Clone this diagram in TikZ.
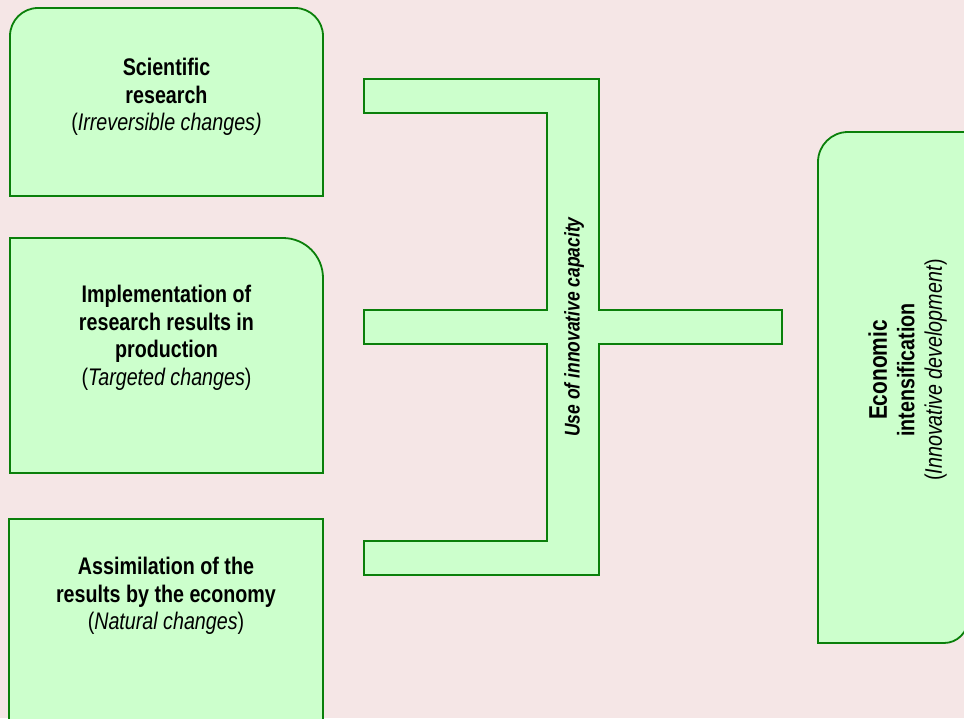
\documentclass[tikz,border=0pt]{standalone}
\usepackage{fontspec}
\setmainfont[FakeStretch=0.82]{Liberation Sans}
\usepackage{xcolor}
\usetikzlibrary{positioning}
\definecolor{bgpink}{HTML}{F5E6E6}
\definecolor{boxgreen}{HTML}{CCFFCC}
\definecolor{edgegreen}{HTML}{0A7F0A}

\begin{document}
\begin{tikzpicture}[x=1pt, y=-1pt,
  every node/.style={font=\fontsize{24}{27.5}\selectfont, align=center, text=black, inner sep=0pt},
  blockfill/.style={fill=boxgreen, draw=edgegreen, line width=1.8pt, line join=miter}]
% --- Background ---
\fill[bgpink] (0,0) rectangle (964,718);
\useasboundingbox (0,0) rectangle (964,718);

% --- Left blocks ---
\draw[blockfill] (10,196) [rounded corners=28pt] -- (10,8) -- (323,8) [sharp corners] -- (323,196) -- cycle;
\draw[blockfill] (10,473) -- (10,238) [rounded corners=40pt] -- (323,238) [sharp corners] -- (323,473) -- cycle;
\draw[blockfill] (9,519) rectangle (323,722);

% --- Right block ---
\draw[blockfill] (818,643) [rounded corners=30pt] -- (818,132) [sharp corners] -- (968,132) [rounded corners=24pt] -- (968,643) [sharp corners] -- cycle;

% --- Bracket ---
\draw[blockfill] (364,79) -- (599,79) -- (599,310) -- (782,310) -- (782,344)
  -- (599,344) -- (599,575) -- (364,575) -- (364,541) -- (547,541)
  -- (547,344) -- (364,344) -- (364,310) -- (547,310) -- (547,113)
  -- (364,113) -- cycle;

% --- Labels ---
\node (research) at (166.5,97) {\textbf{Scientific}\\\textbf{research}\\(\textit{Irreversible changes)}};
\node (implement) at (166.5,338) {\textbf{Implementation of}\\\textbf{research results in}\\\textbf{production}\\(\textit{Targeted changes})};
\node (assimil) at (166,596) {\textbf{Assimilation of the}\\\textbf{results by the economy}\\(\textit{Natural changes})};
\node[rotate=90] (capacity) at (574,327) {\fontsize{21.3}{26}\selectfont\bfseries\itshape Use of innovative capacity};
\node[rotate=90] (intens) at (907.5,370) {\fontsize{25.5}{27.5}\selectfont\textbf{Economic}\\\textbf{intensification}\\(\textit{Innovative development})};
\end{tikzpicture}
\end{document}
